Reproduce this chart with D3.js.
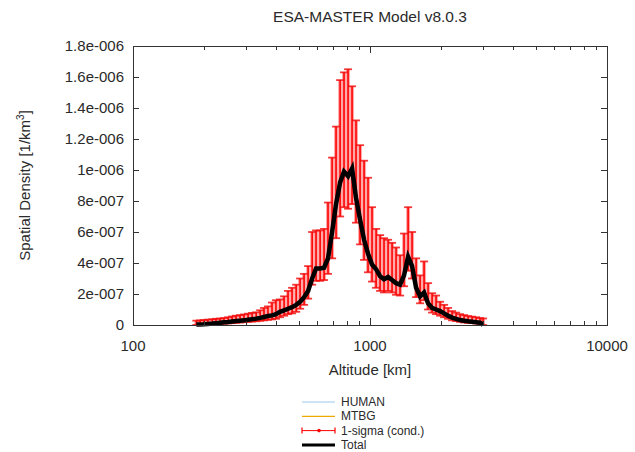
<!DOCTYPE html>
<html>
<head>
<meta charset="utf-8">
<title>ESA-MASTER Model v8.0.3</title>
<script src="https://d3js.org/d3.v7.min.js"></script>
<style>
    body { margin: 0; background: #fff; }
    text { font-family: "Liberation Sans", Arial, sans-serif; fill: #2a2a2a; }
</style>
</head>
<body>
<div id="chart"></div>
<script>
// altitude bins [km]
var altitudes = [185, 192, 199, 207, 216, 224, 233, 242, 252, 262, 272, 283, 294, 306, 318, 331, 344, 357,
    371, 386, 401, 417, 434, 451, 469, 488, 507, 527, 548, 570, 592, 616, 640, 665, 692, 719, 748, 777,
    808, 840, 873, 908, 944, 981, 1020, 1061, 1103, 1146, 1192, 1239, 1288, 1339, 1392, 1448, 1505, 1565,
    1627, 1691, 1758, 1828, 1900, 1975, 2054, 2135, 2220, 2308, 2399, 2494, 2593, 2696, 2803, 2914, 3000];

// total spatial density, in units of 1e-7 /km^3
var total = [0.03, 0.04, 0.05, 0.07, 0.09, 0.12, 0.15, 0.18, 0.2, 0.23, 0.26, 0.28, 0.3, 0.34, 0.38, 0.41,
    0.46, 0.52, 0.58, 0.62, 0.7, 0.85, 0.95, 1.05, 1.15, 1.3, 1.5, 1.8, 2.2, 3.0, 3.65, 3.65, 3.7, 4.3,
    6.0, 7.8, 9.2, 9.9, 9.6, 10.1, 8.2, 6.8, 5.5, 4.6, 3.9, 3.6, 3.15, 2.95, 3.1, 2.9, 2.7, 2.6, 3.2, 4.4,
    3.8, 2.4, 1.85, 2.1, 1.4, 1.1, 1.0, 0.9, 0.75, 0.6, 0.48, 0.4, 0.32, 0.28, 0.24, 0.21, 0.18, 0.15, 0.01];

// 1-sigma (cond.) upper and lower ends, 1e-7 /km^3
var sigmaHi = [0.28, 0.3, 0.32, 0.35, 0.37, 0.4, 0.42, 0.45, 0.5, 0.55, 0.6, 0.64, 0.68, 0.73, 0.78, 0.82,
    0.95, 1.1, 1.2, 1.45, 1.6, 1.65, 1.85, 2.2, 2.4, 2.6, 3.0, 3.3, 3.8, 6.0, 6.1, 6.1, 6.2, 7.9,
    10.8, 12.8, 15.8, 16.3, 16.5, 15.4, 13.2, 11.6, 10.6, 9.5, 7.6, 6.2, 5.8, 5.6, 5.5, 5.3, 5.0, 4.5, 5.9, 7.6,
    6.0, 4.3, 3.2, 4.1, 2.7, 2.05, 1.9, 1.5, 1.3, 1.1, 0.9, 0.8, 0.7, 0.64, 0.58, 0.54, 0.5, 0.45, 0.42];
var sigmaLo = [0.0, 0.0, 0.01, 0.02, 0.03, 0.04, 0.06, 0.08, 0.1, 0.12, 0.14, 0.16, 0.18, 0.2, 0.22, 0.24,
    0.27, 0.3, 0.33, 0.36, 0.4, 0.5, 0.6, 0.7, 0.75, 0.85, 1.05, 1.3, 1.7, 2.6, 2.85, 2.85, 2.9, 3.3,
    4.3, 5.6, 7.0, 7.6, 7.5, 7.8, 6.6, 5.2, 4.2, 3.4, 2.8, 2.4, 2.2, 2.1, 2.2, 2.1, 1.95, 1.9, 2.5, 3.5,
    3.0, 1.8, 1.4, 1.6, 1.0, 0.8, 0.7, 0.6, 0.5, 0.4, 0.3, 0.25, 0.2, 0.16, 0.14, 0.12, 0.1, 0.08, 0.0];

var yTicks = [0, 2e-7, 4e-7, 6e-7, 8e-7, 1e-6, 1.2e-6, 1.4e-6, 1.6e-6, 1.8e-6];
var yTickLabels = ["0", "2e-007", "4e-007", "6e-007", "8e-007", "1e-006", "1.2e-006", "1.4e-006", "1.6e-006", "1.8e-006"];
var xMajor = [100, 1000, 10000];
var xMajorLabels = ["100", "1000", "10000"];
var xMinor = [200, 300, 400, 500, 600, 700, 800, 900, 2000, 3000, 4000, 5000, 6000, 7000, 8000, 9000];

var legendNames = ["HUMAN", "MTBG", "1-sigma (cond.)", "Total"];
var legendColors = ["#9ccaf0", "#f0a800", "#ff0000", "#000"];

var W = 635, H = 452;
var margin = {top: 46, right: 28, bottom: 127, left: 133};
var width = W - margin.left - margin.right,
    height = H - margin.top - margin.bottom;

var svg = d3.select("#chart").append("svg")
    .attr("width", W).attr("height", H);

var g = svg.append("g")
    .attr("transform", "translate(" + margin.left + "," + margin.top + ")");

var x = d3.scaleLog().domain([100, 10000]).range([0, width]);
var y = d3.scaleLinear().domain([0, 1.8e-6]).range([height, 0]);

var data = altitudes.map(function(a, i) {
    return {alt: a, total: total[i] * 1e-7, hi: sigmaHi[i] * 1e-7, lo: sigmaLo[i] * 1e-7};
});

// error bars
var eb = g.append("g");
var cap = 4;
data.forEach(function(d) {
    var px = x(d.alt);
    eb.append("line")
        .attr("x1", px).attr("x2", px)
        .attr("y1", y(d.lo)).attr("y2", y(d.hi))
        .attr("stroke", "rgba(255,40,40,0.4)").attr("stroke-width", 4);
    eb.append("line")
        .attr("x1", px).attr("x2", px)
        .attr("y1", y(d.lo)).attr("y2", y(d.hi))
        .attr("stroke", "#ff0000").attr("stroke-width", 1.6);
    [d.lo, d.hi].forEach(function(v) {
        eb.append("line")
            .attr("x1", px - cap).attr("x2", px + cap)
            .attr("y1", y(v)).attr("y2", y(v))
            .attr("stroke", "rgba(240,10,10,0.8)").attr("stroke-width", 1.8);
    });
});

// total
g.append("path")
    .datum(data)
    .attr("fill", "none")
    .attr("stroke", "#000")
    .attr("stroke-width", 4.5)
    .attr("stroke-linejoin", "miter")
    .attr("d", d3.line()
        .x(function(d) { return x(d.alt); })
        .y(function(d) { return y(d.total); }));

// frame
g.append("rect")
    .attr("x", 0.5).attr("y", 0.5)
    .attr("width", width).attr("height", height)
    .attr("fill", "none").attr("stroke", "#333").attr("stroke-width", 1);

// ticks (mirrored, inward)
var tk = g.append("g").attr("stroke", "#333").attr("stroke-width", 1);
yTicks.forEach(function(v) {
    var py = Math.round(y(v)) + 0.5;
    tk.append("line").attr("x1", 0).attr("x2", 6).attr("y1", py).attr("y2", py);
    tk.append("line").attr("x1", width - 6).attr("x2", width).attr("y1", py).attr("y2", py);
});
xMajor.forEach(function(v) {
    var px = Math.round(x(v)) + 0.5;
    tk.append("line").attr("x1", px).attr("x2", px).attr("y1", height).attr("y2", height - 7);
    tk.append("line").attr("x1", px).attr("x2", px).attr("y1", 0).attr("y2", 7);
});
xMinor.forEach(function(v) {
    var px = Math.round(x(v)) + 0.5;
    tk.append("line").attr("x1", px).attr("x2", px).attr("y1", height).attr("y2", height - 4);
    tk.append("line").attr("x1", px).attr("x2", px).attr("y1", 0).attr("y2", 4);
});

// tick labels
yTicks.forEach(function(v, i) {
    g.append("text")
        .attr("x", -9).attr("y", y(v) + 5)
        .attr("text-anchor", "end")
        .attr("font-size", 15)
        .text(yTickLabels[i]);
});
xMajor.forEach(function(v, i) {
    g.append("text")
        .attr("x", x(v)).attr("y", height + 26)
        .attr("text-anchor", "middle")
        .attr("font-size", 15)
        .text(xMajorLabels[i]);
});

// title and axis titles
svg.append("text")
    .attr("x", margin.left + width / 2).attr("y", 22)
    .attr("text-anchor", "middle")
    .attr("font-size", 15.5)
    .text("ESA-MASTER Model v8.0.3");

svg.append("text")
    .attr("x", margin.left + width / 2).attr("y", 375)
    .attr("text-anchor", "middle")
    .attr("font-size", 15)
    .text("Altitude [km]");

var yl = svg.append("text")
    .attr("transform", "translate(30," + (margin.top + height / 2) + ") rotate(-90)")
    .attr("text-anchor", "middle")
    .attr("font-size", 15);
yl.append("tspan").text("Spatial Density [1/km");
yl.append("tspan").attr("font-size", 10).attr("dy", -6).text("3");
yl.append("tspan").attr("dy", 6).text("]");

// legend
var lg = svg.append("g").attr("transform", "translate(302,402)");
legendNames.forEach(function(name, i) {
    var ly = i * 14.3;
    if (i === 2) {
        lg.append("line").attr("x1", 0).attr("x2", 33).attr("y1", ly).attr("y2", ly)
            .attr("stroke", legendColors[i]).attr("stroke-width", 1);
        [0, 33].forEach(function(cx) {
            lg.append("line").attr("x1", cx).attr("x2", cx).attr("y1", ly - 3).attr("y2", ly + 3)
                .attr("stroke", legendColors[i]).attr("stroke-width", 1.2);
        });
        lg.append("circle").attr("cx", 17).attr("cy", ly).attr("r", 1.8).attr("fill", legendColors[i]);
    } else {
        lg.append("line").attr("x1", 0).attr("x2", 33).attr("y1", ly).attr("y2", ly)
            .attr("stroke", legendColors[i]).attr("stroke-width", i === 3 ? 3 : 1.2);
    }
    lg.append("text")
        .attr("x", 39).attr("y", ly + 4)
        .attr("font-size", 12)
        .text(name);
});
</script>
</body>
</html>
